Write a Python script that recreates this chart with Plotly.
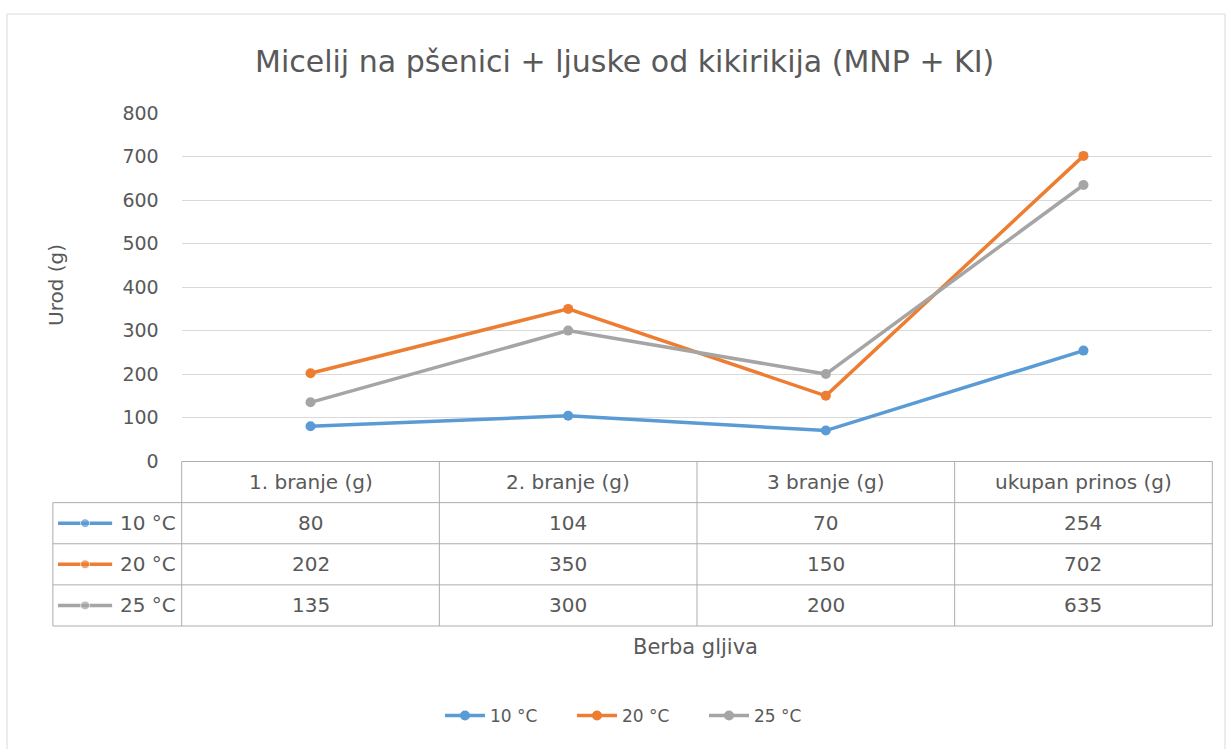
import plotly.graph_objects as go

# ---- data ----
categories = ["1. branje (g)", "2. branje (g)", "3 branje (g)", "ukupan prinos (g)"]
series_names = ["10 °C", "20 °C", "25 °C"]
values_10 = [80, 104, 70, 254]
values_20 = [202, 350, 150, 702]
values_25 = [135, 300, 200, 635]
y_ticks = [0, 100, 200, 300, 400, 500, 600, 700, 800]
title_text = "Micelij na pšenici + ljuske od kikirikija (MNP + KI)"
y_title = "Urod (g)"
x_title = "Berba gljiva"

series_values = [values_10, values_20, values_25]
colors = ["#5B9BD5", "#ED7D31", "#A5A5A5"]

W, H = 1228, 749
FONT = "DejaVu Sans"
TXT = "#595959"
GRID = "#D9D9D9"
TBL = "#ADADAD"


def fx(p):
    return p / W


def fy(p):
    return 1 - p / H


left_plot, right_plot = 181.7, 1212.3
col_w = (right_plot - left_plot) / 4.0
plot_top, plot_bottom = 113.3, 461.0
row_h = (626.0 - 461.5) / 4.0
pad = 0.02

fig = go.Figure()

xs = list(range(len(categories)))
for name, vals, col in zip(series_names, series_values, colors):
    fig.add_trace(go.Scatter(
        x=xs, y=vals, name=name, mode="lines+markers",
        line=dict(color=col, width=3.5),
        marker=dict(color=col, size=10),
        xaxis="x", yaxis="y", cliponaxis=False,
    ))

# legend keys inside the data table (row labels)
for r, (name, col) in enumerate(zip(series_names, colors), start=1):
    fig.add_trace(go.Scatter(
        x=[-0.98, -0.875, -0.77], y=[r + 0.5] * 3, mode="lines+markers",
        line=dict(color=col, width=3.5), marker=dict(color=col, size=[0, 9, 0]),
        xaxis="x2", yaxis="y2", showlegend=False, hoverinfo="skip",
    ))

shapes = []
shapes.append(dict(type="rect", xref="paper", yref="paper",
                   x0=fx(7), x1=fx(1225), y0=-0.1, y1=fy(14),
                   line=dict(color=GRID, width=1), layer="below"))
n = len(categories)
shapes.append(dict(type="line", xref="x2", yref="y2", x0=-0.5, x1=n - 0.5, y0=0, y1=0,
                   line=dict(color=TBL, width=1)))
for r in range(1, len(series_names) + 2):
    shapes.append(dict(type="line", xref="x2", yref="y2", x0=-1, x1=n - 0.5, y0=r, y1=r,
                       line=dict(color=TBL, width=1)))
shapes.append(dict(type="line", xref="x2", yref="y2", x0=-1, x1=-1, y0=1, y1=len(series_names) + 1,
                   line=dict(color=TBL, width=1)))
for c in range(n + 1):
    shapes.append(dict(type="line", xref="x2", yref="y2", x0=c - 0.5, x1=c - 0.5, y0=0,
                       y1=len(series_names) + 1, line=dict(color=TBL, width=1)))

annotations = []
for c, cat in enumerate(categories):
    annotations.append(dict(xref="x2", yref="y2", x=c, y=0.5, text=cat, showarrow=False,
                            font=dict(family=FONT, size=20, color=TXT)))
    for r, vals in enumerate(series_values, start=1):
        annotations.append(dict(xref="x2", yref="y2", x=c, y=r + 0.5, text=str(vals[c]),
                                showarrow=False, font=dict(family=FONT, size=20, color=TXT)))
for r, name in enumerate(series_names, start=1):
    annotations.append(dict(xref="x2", yref="y2", x=-0.515, y=r + 0.5, text=name, xanchor="right",
                            showarrow=False, font=dict(family=FONT, size=20, color=TXT)))

annotations.append(dict(xref="paper", yref="paper", x=fx(624), y=fy(62), text=title_text,
                        showarrow=False, xanchor="center", yanchor="middle",
                        font=dict(family=FONT, size=30, color=TXT)))
annotations.append(dict(xref="paper", yref="paper", x=fx(56), y=fy(285), text=y_title,
                        textangle=-90, showarrow=False, xanchor="center", yanchor="middle",
                        font=dict(family=FONT, size=20, color=TXT)))
annotations.append(dict(xref="paper", yref="paper", x=fx(695), y=fy(647), text=x_title,
                        showarrow=False, xanchor="center", yanchor="middle",
                        font=dict(family=FONT, size=21, color=TXT)))

fig.update_layout(
    width=W, height=H,
    margin=dict(l=0, r=0, t=0, b=0, autoexpand=False),
    paper_bgcolor="white", plot_bgcolor="rgba(0,0,0,0)",
    font=dict(family=FONT, color=TXT),
    showlegend=True,
    legend=dict(orientation="h", x=fx(440), xanchor="left", y=fy(716), yanchor="middle",
                font=dict(family=FONT, size=17, color=TXT), itemwidth=40,
                entrywidth=77, entrywidthmode="pixels",
                traceorder="normal", bgcolor="rgba(0,0,0,0)"),
    xaxis=dict(domain=[fx(left_plot), fx(right_plot)], range=[-0.5, n - 0.5],
               showgrid=False, zeroline=False, showticklabels=False, showline=False,
               anchor="y", fixedrange=True, automargin=False),
    yaxis=dict(domain=[fy(plot_bottom), fy(plot_top)], range=[0, 800],
               tickvals=y_ticks, ticktext=[str(v) for v in y_ticks],
               showgrid=True, gridcolor=GRID, gridwidth=1, zeroline=False,
               showline=False, ticks="", ticklabelstandoff=22, automargin=False,
               tickfont=dict(family=FONT, size=19, color=TXT), anchor="x"),
    xaxis2=dict(domain=[fx(left_plot - col_w * (0.5 + pad)), fx(right_plot + col_w * pad)],
                range=[-1 - pad, n - 0.5 + pad], visible=False, anchor="y2", automargin=False),
    yaxis2=dict(domain=[fy(626.0 + row_h * pad * 2), fy(461.5 - row_h * pad * 2)],
                range=[4 + 2 * pad, -2 * pad], visible=False, anchor="x2", automargin=False),
    shapes=shapes,
    annotations=annotations,
)

fig.write_html(
    "out.html",
    config={"displayModeBar": False},
    post_script="document.body.style.margin='0';document.body.style.overflow='hidden';",
)
